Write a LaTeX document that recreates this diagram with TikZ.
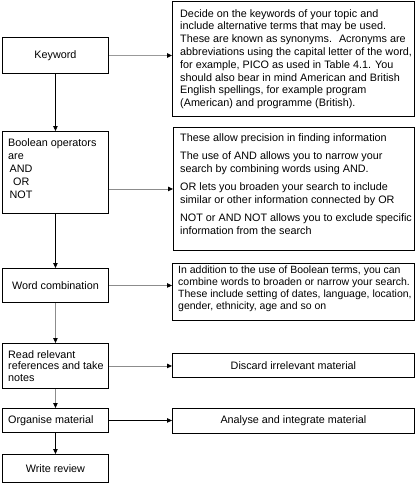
\documentclass[tikz,border=0pt]{standalone}
\usepackage{fontspec}
\setmainfont{Liberation Sans}
\usetikzlibrary{arrows.meta}
\begin{document}
\begin{tikzpicture}[x=1pt,y=-1pt,
  box/.style={draw=black,line width=0.9pt,inner sep=0pt,anchor=north west},
  txt/.style={inner sep=0pt,anchor=north west,align=left,font=\fontsize{10.8}{12.5}\selectfont},
  ctxt/.style={inner sep=0pt,align=center,font=\fontsize{10.8}{12.5}\selectfont},
  tip/.style={-{Triangle[length=5pt,width=4.5pt,black]}},
  blk/.style={tip,draw=black,line width=0.8pt},
  gry/.style={tip,draw=black!40,line width=1.2pt},
  gryb/.style={tip,draw=black!45,line width=0.9pt}]
\useasboundingbox (0,0) rectangle (417,483);
% left column boxes
\node[box,minimum width=106pt,minimum height=36pt] (kw) at (2,37) {};
\node[ctxt] (kwt) at (kw.center) {Keyword};
\node[box,minimum width=106pt,minimum height=82pt] (bool) at (2,131) {};
\node[txt,font=\fontsize{10.8}{13}\selectfont] (boolt) at ([shift={(6,7.5)}]bool.north west) {Boolean operators\\are\\\hspace*{1.5pt}AND\\\hspace*{5pt}OR\\\hspace*{1.5pt}NOT};
\node[box,minimum width=106pt,minimum height=34pt] (wc) at (2,268) {};
\node[ctxt] (wct) at (wc.center) {Word combination};
\node[box,minimum width=106pt,minimum height=45pt] (rd) at (2,343) {};
\node[txt,anchor=west,font=\fontsize{10.8}{11.6}\selectfont] (rdt) at ([xshift=6pt]rd.west) {Read relevant\\references and take\\notes};
\node[box,minimum width=106pt,minimum height=24pt] (org) at (2,408) {};
\node[txt,anchor=west] (orgt) at ([xshift=6pt]org.west) {Organise material};
\node[box,minimum width=106pt,minimum height=28pt] (wr) at (2,454) {};
\node[ctxt] (wrt) at (wr.center) {Write review};
% right column boxes
\node[box,minimum width=242pt,minimum height=115pt] (r1) at (172,1) {};
\node[txt,font=\fontsize{10.8}{12.8}\selectfont] (r1t) at ([shift={(8,8)}]r1.north west) {Decide on the keywords of your topic and\\include alternative terms that may be used.\\These are known as synonyms.~ Acronyms are\\abbreviations using the capital letter of the word,\\for example, PICO as used in Table 4.1. You\\should also bear in mind American and British\\English spellings, for example program\\(American) and programme (British).};
\node[box,minimum width=241pt,minimum height=123pt] (r2) at (173,127) {};
\node[txt] (r2t) at ([shift={(7,6)}]r2.north west) {These allow precision in finding information\\[6pt]The use of AND allows you to narrow your\\search by combining words using AND.\\[6pt]OR lets you broaden your search to include\\similar or other information connected by OR\\[6pt]NOT or AND NOT allows you to exclude specific\\information from the search};
\node[box,minimum width=242pt,minimum height=57pt] (r3) at (172,263) {};
\node[txt,font=\fontsize{10.5}{12.2}\selectfont] (r3t) at ([shift={(6,2.5)}]r3.north west) {In addition to the use of Boolean terms, you can\\combine words to broaden or narrow your search.\\These include setting of dates, language, location,\\gender, ethnicity, age and so on};
\node[box,minimum width=242pt,minimum height=24pt] (dis) at (172,353) {};
\node[ctxt] (dist) at (dis.center) {Discard irrelevant material};
\node[box,minimum width=242pt,minimum height=25pt] (ana) at (172,408) {};
\node[ctxt] (anat) at (ana.center) {Analyse and integrate material};
% connectors
\draw[gry] (kw.east) -- (kw.east -| r1.west);
\draw[blk] (kw.south) -- (bool.north);
\draw[gryb] (bool.east |- r2.west) -- (r2.west);
\draw[blk] (bool.south) -- (wc.north);
\draw[gryb] (wc.east) -- (wc.east -| r3.west);
\draw[gryb] (wc.south) -- (rd.north);
\draw[gryb] (rd.east) -- (rd.east -| dis.west);
\draw[gryb] (rd.south) -- (org.north);
\draw[blk] (org.east) -- (org.east -| ana.west);
\draw[blk] (org.south) -- (wr.north);
\end{tikzpicture}
\end{document}
